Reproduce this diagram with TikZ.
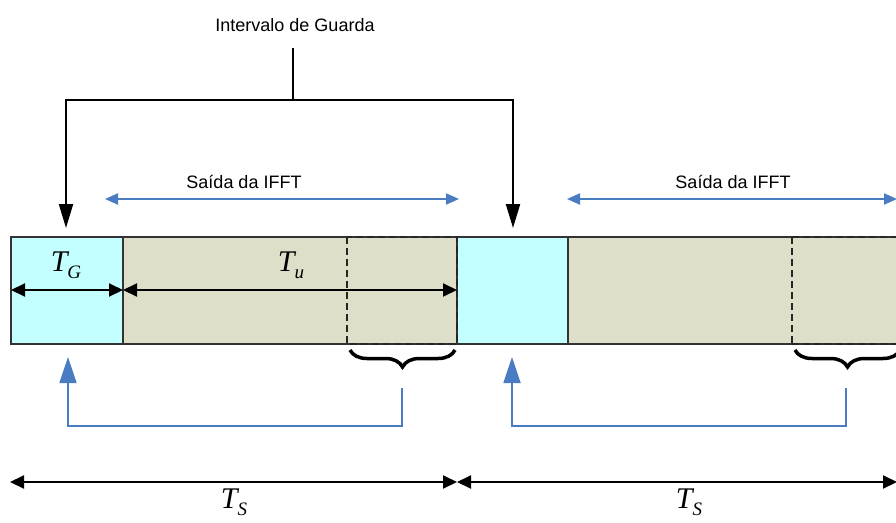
\documentclass[tikz,border=0pt]{standalone}
\usepackage{fontspec}
\setmainfont{Liberation Sans}
\newfontfamily\timesf{Liberation Serif}
\usetikzlibrary{arrows.meta,decorations.pathreplacing}
\definecolor{cyanfill}{HTML}{C4FFFF}
\definecolor{beige}{HTML}{DDDFC9}
\definecolor{blu}{HTML}{4A7CC4}
\tikzset{
  blk/.style={draw=black!80, line width=1.3pt},
  dbox/.style={draw=black!85, line width=1.5pt, dash pattern=on 7pt off 4pt},
  blackarr/.style={line width=2pt, -{Triangle[length=24pt,width=14pt]}},
  dimarr/.style={line width=2pt, {Triangle[length=14pt,width=13pt]}-{Triangle[length=14pt,width=13pt]}},
  bluearr/.style={draw=blu, line width=2pt, {Triangle[length=13pt,width=11pt]}-{Triangle[length=13pt,width=11pt]}},
  blueret/.style={draw=blu, line width=1.8pt, -{Triangle[length=26pt,width=17pt]}},
  lbl/.style={font=\fontsize{18}{21}\selectfont, inner sep=0pt},
  tl/.style={font=\timesf\itshape\fontsize{30}{32}\selectfont, inner sep=0pt},
  brc/.style={decorate, decoration={brace, amplitude=17pt, mirror, aspect=0.5}, line width=3.5pt}
}
\newcommand{\Tsub}[1]{T\raisebox{-7pt}{\fontsize{19}{21}\selectfont #1}}
\begin{document}
\begin{tikzpicture}[x=1pt,y=-1pt]
\useasboundingbox (0,0) rectangle (896,522);
% blocks
\fill[cyanfill] (11,237) rectangle (123,344);
\fill[beige] (123,237) rectangle (457,344);
\fill[cyanfill] (457,237) rectangle (568,344);
\fill[beige] (568,237) rectangle (897,344);
\draw[blk] (897,237) -- (11,237) -- (11,344) -- (897,344);
\draw[blk] (123,237) -- (123,344);
\draw[blk] (457,237) -- (457,344);
\draw[blk] (568,237) -- (568,344);
\draw[dbox] (347,237) rectangle (457,344);
\draw[dbox] (792,237) -- (792,344);
\draw[dbox] (792,237) -- (897,237);
\draw[dbox] (792,344) -- (897,344);
% coordinates
\coordinate (g1) at (66,228);
\coordinate (g2) at (513,228);
\coordinate (a) at (11,290);
\coordinate (b) at (123,290);
\coordinate (c) at (457,290);
% T labels
\node[tl] (TG) at (66,265) {\Tsub{G}};
\node[tl] (Tu) at (291,265) {\Tsub{u}};
\draw[dimarr] (a) -- (b);
\draw[dimarr] (b) -- (c);
% guard interval
\node[lbl] (ig) at (295,25) {Intervalo de Guarda};
\coordinate (j) at (293,100);
\draw[line width=2pt] (293,48) -- (j);
\draw[blackarr] (j) -| (g1);
\draw[blackarr] (j) -| (g2);
% IFFT
\node[lbl] (s1) at (244,182) {Saída da IFFT};
\node[lbl] (s2) at (733,182) {Saída da IFFT};
\coordinate (s1l) at (105,199);
\coordinate (s1r) at (459,199);
\coordinate (s2l) at (567,199);
\coordinate (s2r) at (897,199);
\draw[bluearr] (s1l) -- (s1r);
\draw[bluearr] (s2l) -- (s2r);
% braces
\draw[brc] (350,350) -- (455,350);
\draw[brc] (795,350) -- (900,350);
\coordinate (br1) at (402,388);
\coordinate (br2) at (846,388);
\coordinate (up1) at (68,357);
\coordinate (up2) at (512,357);
\draw[blueret] (br1) -- (402,426) -| (up1);
\draw[blueret] (br2) -- (846,426) -| (up2);
% Ts
\coordinate (t0) at (10,482);
\coordinate (t1) at (457,482);
\coordinate (t2) at (897,482);
\draw[dimarr] (t0) -- (t1);
\draw[dimarr] (t1) -- (t2);
\node[tl] (TS1) at (234,502) {\Tsub{S}};
\node[tl] (TS2) at (689,502) {\Tsub{S}};
\end{tikzpicture}
\end{document}
